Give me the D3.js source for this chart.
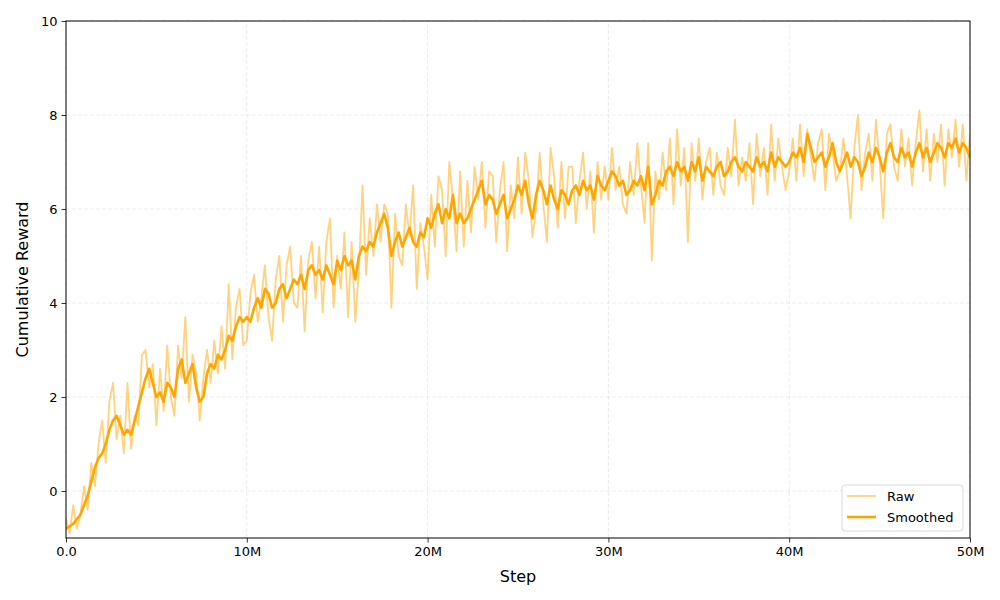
<!DOCTYPE html>
<html>
<head>
<meta charset="utf-8">
<script src="https://d3js.org/d3.v7.min.js"></script>
<style>
  body { margin: 0; background: #fff; }
  text { font-family: "DejaVu Sans", sans-serif; }
</style>
</head>
<body>
<script>
  // step spacing of the samples (millions of steps)
  var stepSize = 0.2;

  var xTicks = [0, 10, 20, 30, 40, 50];
  var xTickLabels = ["0.0", "10M", "20M", "30M", "40M", "50M"];
  var yTicks = [0, 2, 4, 6, 8, 10];

  var rawValues = [
    -0.6,-0.9,-0.3,-0.8,-0.5,0.1,-0.4,0.6,0.1,1.0,
    1.5,0.6,1.9,2.3,1.1,1.6,0.8,2.3,0.9,1.6,
    1.4,2.9,3.0,2.2,2.7,1.4,2.6,1.7,3.1,2.0,
    1.6,3.1,2.4,3.7,1.9,2.9,2.5,1.5,2.4,3.0,
    2.3,3.2,2.5,3.5,2.6,4.4,2.8,3.9,4.3,3.1,
    3.2,4.2,4.6,3.6,4.1,4.8,3.7,3.2,4.5,5.0,
    3.6,4.8,5.2,4.0,3.9,5.0,3.4,4.9,5.3,4.1,
    5.2,3.8,5.3,5.8,3.9,5.0,4.3,5.5,3.7,5.3,
    3.6,4.7,6.5,4.6,5.8,5.0,6.1,5.3,6.1,5.9,
    3.9,5.9,5.0,4.8,6.1,5.4,6.5,4.3,5.7,5.2,
    4.5,6.3,5.2,6.7,6.4,5.0,7.0,6.2,5.1,6.8,
    5.2,6.6,5.5,6.9,6.2,7.0,5.6,6.8,6.7,5.3,
    6.4,7.0,5.1,6.5,5.8,7.1,5.9,7.2,6.6,5.4,
    6.0,7.2,6.1,5.3,7.3,6.7,5.6,7.0,5.8,6.9,
    6.9,5.7,6.6,7.2,6.0,6.8,5.5,7.0,6.2,6.9,
    6.2,7.3,6.4,6.9,6.1,5.9,7.0,6.3,7.4,6.5,
    5.7,7.4,4.9,6.8,6.2,7.2,6.4,7.5,6.1,7.7,
    6.5,7.3,5.3,7.4,6.6,7.5,6.2,7.0,7.3,6.3,
    7.2,6.5,6.3,7.3,6.7,7.9,6.5,7.1,6.6,7.4,
    6.1,7.6,6.7,7.3,6.3,7.8,6.6,7.5,6.9,6.4,
    6.8,7.5,6.6,7.8,6.7,7.7,7.1,6.6,7.4,7.7,
    6.4,7.6,7.2,6.6,6.8,7.5,6.7,5.8,7.3,8.0,
    6.4,7.2,7.6,6.6,7.9,7.0,5.8,7.6,7.8,6.9,
    6.6,7.7,6.9,7.5,6.5,7.4,8.1,6.8,7.7,6.6,
    7.6,7.0,7.8,6.5,7.7,7.1,7.9,6.9,7.8,6.6,
    7.6
  ];

  var smoothedValues = [
    -0.8,-0.75,-0.7,-0.6,-0.5,-0.3,-0.1,0.2,0.5,0.7,
    0.8,1.0,1.3,1.5,1.6,1.4,1.2,1.3,1.2,1.5,
    1.8,2.1,2.4,2.6,2.3,2.0,2.1,1.9,2.3,2.2,
    2.0,2.6,2.8,2.3,2.5,2.7,2.2,1.9,2.0,2.5,
    2.7,2.6,2.9,2.8,3.0,3.3,3.2,3.5,3.7,3.6,
    3.7,3.6,3.9,4.1,3.9,4.3,4.2,3.9,4.0,4.3,
    4.4,4.1,4.3,4.5,4.4,4.6,4.3,4.7,4.8,4.6,
    4.7,4.5,4.8,4.6,4.4,4.9,4.7,5.0,4.8,4.9,
    4.5,5.0,5.2,5.1,5.3,5.2,5.5,5.7,5.9,5.6,
    5.0,5.3,5.5,5.2,5.4,5.6,5.3,5.2,5.5,5.4,
    5.8,5.6,5.9,6.1,5.7,6.0,5.8,6.3,5.7,5.9,
    5.7,5.8,6.0,6.2,6.4,6.6,6.1,6.3,6.2,5.9,
    6.1,6.3,5.8,6.0,6.2,6.5,6.3,6.6,6.1,5.8,
    6.3,6.6,6.4,6.1,6.5,6.2,6.0,6.4,6.3,6.1,
    6.4,6.5,6.3,6.6,6.4,6.5,6.2,6.7,6.5,6.4,
    6.6,6.8,6.7,6.5,6.6,6.3,6.4,6.6,6.5,6.7,
    6.4,6.9,6.1,6.3,6.6,6.5,6.8,6.9,6.7,7.0,
    6.8,6.9,6.6,7.0,6.8,7.1,6.6,6.9,6.8,6.7,
    6.9,7.0,6.7,6.8,7.0,7.1,6.9,6.8,7.0,6.9,
    6.8,7.1,6.9,7.0,6.8,7.2,6.9,7.1,7.0,6.9,
    7.0,7.2,7.1,7.3,7.0,7.6,7.3,7.0,7.1,7.2,
    6.9,7.1,7.4,7.0,6.8,7.0,7.2,6.9,7.1,7.0,
    6.7,6.9,7.2,7.0,7.3,7.1,6.8,7.2,7.4,7.1,
    7.0,7.3,7.1,7.2,6.9,7.2,7.4,7.1,7.3,7.0,
    7.2,7.4,7.3,7.1,7.4,7.3,7.5,7.2,7.4,7.3,
    7.1
  ];

  var width = 1000, height = 600;
  var margin = {top: 21, right: 30, bottom: 62, left: 66};
  var orange = "#ffa500";

  var svg = d3.select("body").append("svg")
      .attr("width", width)
      .attr("height", height);

  var x = d3.scaleLinear().domain([0, 50]).range([margin.left, width - margin.right]);
  var y = d3.scaleLinear().domain([-1, 10]).range([height - margin.bottom, margin.top]);

  // grid
  svg.append("g").selectAll("line").data(xTicks).enter().append("line")
      .attr("x1", function (d) { return x(d); }).attr("x2", function (d) { return x(d); })
      .attr("y1", y(-1)).attr("y2", y(10))
      .attr("stroke", "#b0b0b0").attr("stroke-opacity", 0.3)
      .attr("stroke-dasharray", "4,2").attr("stroke-width", 0.8);
  svg.append("g").selectAll("line").data(yTicks).enter().append("line")
      .attr("y1", function (d) { return y(d); }).attr("y2", function (d) { return y(d); })
      .attr("x1", x(0)).attr("x2", x(50))
      .attr("stroke", "#b0b0b0").attr("stroke-opacity", 0.3)
      .attr("stroke-dasharray", "4,2").attr("stroke-width", 0.8);

  svg.append("clipPath").attr("id", "plot")
    .append("rect")
      .attr("x", x(0)).attr("y", y(10))
      .attr("width", x(50) - x(0)).attr("height", y(-1) - y(10));

  var line = d3.line()
      .x(function (d, i) { return x(i * stepSize); })
      .y(function (d) { return y(d); });

  var plot = svg.append("g").attr("clip-path", "url(#plot)");

  plot.append("path")
      .datum(rawValues)
      .attr("d", line)
      .attr("fill", "none")
      .attr("stroke", orange)
      .attr("stroke-opacity", 0.5)
      .attr("stroke-width", 1.8)
      .attr("stroke-linejoin", "round");

  plot.append("path")
      .datum(smoothedValues)
      .attr("d", line)
      .attr("fill", "none")
      .attr("stroke", orange)
      .attr("stroke-width", 2.6)
      .attr("stroke-linejoin", "round");

  // axes
  var xAxis = d3.axisBottom(x).tickValues(xTicks)
      .tickFormat(function (d, i) { return xTickLabels[i]; })
      .tickSize(4.5).tickPadding(4);
  var yAxis = d3.axisLeft(y).tickValues(yTicks)
      .tickFormat(d3.format("d"))
      .tickSize(4.5).tickPadding(4);

  var gx = svg.append("g")
      .attr("transform", "translate(0," + y(-1) + ")")
      .call(xAxis);
  var gy = svg.append("g")
      .attr("transform", "translate(" + x(0) + ",0)")
      .call(yAxis);
  [gx, gy].forEach(function (g) {
    g.select(".domain").remove();
    g.selectAll("text").style("font-size", "13px").attr("fill", "#000");
    g.selectAll("line").attr("stroke", "#000").attr("stroke-width", 0.8);
  });

  // frame
  svg.append("rect")
      .attr("x", x(0)).attr("y", y(10))
      .attr("width", x(50) - x(0)).attr("height", y(-1) - y(10))
      .attr("fill", "none").attr("stroke", "#000").attr("stroke-width", 1);

  svg.append("text")
      .attr("x", (x(0) + x(50)) / 2).attr("y", 582)
      .attr("text-anchor", "middle")
      .style("font-size", "16px")
      .text("Step");

  svg.append("text")
      .attr("transform", "translate(28," + ((y(-1) + y(10)) / 2) + ") rotate(-90)")
      .attr("text-anchor", "middle")
      .style("font-size", "16px")
      .text("Cumulative Reward");

  // legend
  var legend = svg.append("g").attr("transform", "translate(842,485)");
  legend.append("rect")
      .attr("width", 121).attr("height", 46).attr("rx", 3)
      .attr("fill", "#fff").attr("fill-opacity", 0.8)
      .attr("stroke", "#d0d0d0").attr("stroke-width", 0.8);
  var items = [
    {label: "Raw", opacity: 0.5, w: 1.8},
    {label: "Smoothed", opacity: 1, w: 2.6}
  ];
  items.forEach(function (it, i) {
    var yy = 11 + i * 21;
    legend.append("line")
        .attr("x1", 5).attr("x2", 34).attr("y1", yy).attr("y2", yy)
        .attr("stroke", orange).attr("stroke-opacity", it.opacity)
        .attr("stroke-width", it.w);
    legend.append("text")
        .attr("x", 45).attr("y", yy + 4.5)
        .style("font-size", "13px")
        .text(it.label);
  });
</script>
</body>
</html>
